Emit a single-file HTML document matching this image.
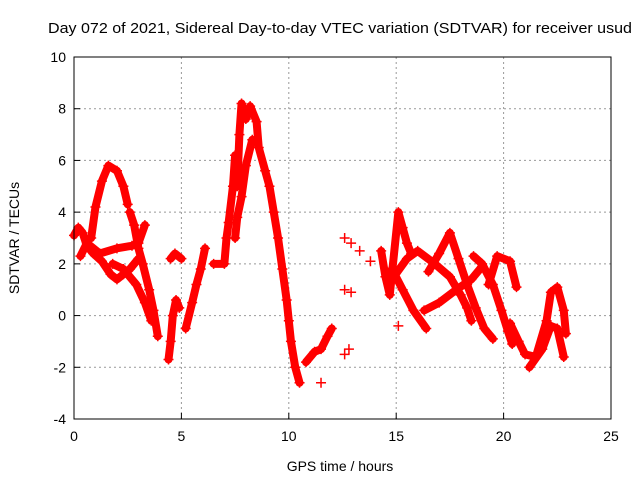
<!DOCTYPE html>
<html><head><meta charset="utf-8"><style>
body{margin:0;background:#fff;width:640px;height:480px;overflow:hidden}
svg{font-family:"Liberation Sans",sans-serif}
</style></head><body>
<svg id="chart" width="640" height="480" viewBox="0 0 640 480">
<rect width="640" height="480" fill="#fff"/>
<text x="340" y="33" font-size="15" text-anchor="middle" textLength="584" lengthAdjust="spacingAndGlyphs">Day 072 of 2021, Sidereal Day-to-day VTEC variation (SDTVAR) for receiver usud</text>
<g id="grid"></g>
<g id="series"></g>
<rect x="74" y="57" width="537" height="362" fill="none" stroke="#000" stroke-width="1"/>
<g id="ticks"></g>
<text x="340" y="471" font-size="14" text-anchor="middle">GPS time / hours</text>
<text x="19" y="238" font-size="14" text-anchor="middle" transform="rotate(-90 19 238)">SDTVAR / TECUs</text>
</svg>
<script>
const xTicks=[0,5,10,15,20,25];
const yTicks=[-4,-2,0,2,4,6,8,10];
const trackA=[[0,3.1],[0.2,3.4],[0.4,3.2],[0.6,2.7],[0.9,2.4],[1.3,2.1],[1.7,1.6],[2.0,1.4],[2.3,1.6],[2.6,1.8],[3.0,2.2]];
const trackB=[[0.8,3.0],[1.0,4.2],[1.3,5.2],[1.6,5.8],[2.0,5.6],[2.3,5.0],[2.5,4.3]];
const trackC=[[0.3,2.3],[0.6,2.8],[1.2,2.4],[2.0,2.6],[2.7,2.7],[3.0,2.8],[3.3,3.5]];
const trackD=[[2.6,4.0],[2.8,3.5],[3.0,2.6],[3.2,2.0],[3.5,1.0],[3.7,0.2],[3.9,-0.8]];
const trackE=[[1.8,2.0],[2.3,1.8],[2.9,1.2],[3.3,0.5],[3.6,-0.2]];
const trackF=[[4.4,-1.7],[4.5,-1.0],[4.6,0.0],[4.75,0.6],[4.9,0.3]];
const trackG=[[4.5,2.2],[4.7,2.4],[5.0,2.2]];
const trackH=[[5.2,-0.5],[5.5,0.5],[5.7,1.2],[5.9,1.8],[6.1,2.6]];
const trackI=[[6.5,2.0],[7.0,2.0],[7.1,3.0],[7.2,3.6],[7.4,5.0],[7.5,6.2]];
const trackJ=[[7.6,5.0],[7.7,7.0],[7.8,8.2],[8.0,7.6],[8.2,8.1],[8.5,7.5],[8.6,6.5],[8.9,5.6],[9.1,5.0],[9.3,4.0],[9.5,3.0],[9.7,1.8],[9.9,0.6],[10.0,-0.2],[10.1,-1.0],[10.3,-2.0],[10.5,-2.6]];
const trackK=[[8.3,6.8],[8.0,5.8],[7.8,4.6],[7.6,3.8],[7.5,3.0]];
const trackL=[[10.8,-1.8],[11.2,-1.4],[11.5,-1.3],[11.8,-0.8],[12.0,-0.5]];
const trackM=[[12.6,3.0],[12.9,2.8],[12.6,1.0],[12.9,0.9],[13.3,2.5],[13.8,2.1],[12.6,-1.5],[12.8,-1.3],[11.5,-2.6],[15.1,-0.4]];
const trackN=[[14.3,2.5],[14.5,1.5],[14.7,0.8],[15.1,4.0],[15.3,3.4],[15.5,2.8],[15.7,2.4]];
const trackO=[[14.8,1.8],[15.3,1.0],[15.8,0.2],[16.4,-0.5]];
const trackP=[[14.8,1.4],[15.5,2.2],[16.0,2.5],[16.8,2.0],[17.5,1.5],[18.0,0.8],[18.3,0.3],[18.5,-0.2]];
const trackQ=[[16.3,0.2],[17.0,0.5],[17.8,1.0],[18.5,1.4],[19.0,1.9]];
const trackR=[[16.5,1.7],[17.0,2.4],[17.5,3.2],[17.9,2.2],[18.3,1.2],[18.7,0.3],[19.1,-0.5],[19.5,-0.9]];
const trackS=[[18.6,2.3],[19.0,2.0],[19.5,1.2],[19.9,0.2],[20.2,-0.6],[20.4,-1.1]];
const trackT=[[19.3,1.2],[19.7,2.3],[20.3,2.1],[20.6,1.1]];
const trackU=[[20.3,-0.3],[20.7,-1.0],[21.0,-1.5],[21.5,-1.6],[22.0,-0.2],[22.2,0.9],[22.5,1.1],[22.8,0.2],[22.9,-0.7]];
const trackV=[[21.2,-2.0],[21.8,-1.3],[22.2,-0.4],[22.5,-0.5],[22.8,-1.6]];
const tracks=[trackA,trackB,trackC,trackD,trackE,trackF,trackG,trackH,trackI,trackJ,trackK,trackL,trackN,trackO,trackP,trackQ,trackR,trackS,trackT,trackU,trackV];
const x0=74,x1=611,y0=419,y1=57;
const sx=v=>x0+(v-0)/25*(x1-x0);
const sy=v=>y0-(v+4)/14*(y0-y1);
const NS="http://www.w3.org/2000/svg";
const grid=document.getElementById('grid'),ticks=document.getElementById('ticks'),ser=document.getElementById('series');
function mk(tag,attrs,parent){const e=document.createElementNS(NS,tag);for(const k in attrs)e.setAttribute(k,attrs[k]);parent.appendChild(e);return e;}
xTicks.forEach(t=>{const x=sx(t);
 if(t>0&&t<25){const l=mk('line',{x1:x,x2:x,y1:y1,y2:y0,stroke:'#999','stroke-dasharray':'2,3'},grid);}
 const tk=mk('line',{x1:x,x2:x,y1:y0,y2:y0-6,stroke:'#000'},ticks);
 const tx=mk('text',{x:x,y:y0+22,'font-size':14,'text-anchor':'middle'},ticks);tx.textContent=t;
 
 });
yTicks.forEach(t=>{const y=sy(t);
 if(t>-4&&t<10){const l=mk('line',{x1:x0,x2:x1,y1:y,y2:y,stroke:'#999','stroke-dasharray':'2,3'},grid);}
 const tk=mk('line',{x1:x0,x2:x0+6,y1:y,y2:y,stroke:'#000'},ticks);
 const tx=mk('text',{x:x0-8,y:y+5,'font-size':14,'text-anchor':'end'},ticks);tx.textContent=t;
 
 });
tracks.forEach(tr=>{
 const p=mk('polyline',{points:tr.map(d=>sx(d[0])+','+sy(d[1])).join(' '),fill:'none',stroke:'#f00','stroke-width':8,'stroke-linejoin':'round','stroke-linecap':'round'},ser);
 
 });
tracks.concat([trackM]).forEach(tr=>tr.forEach(d=>{
 const x=sx(d[0]),y=sy(d[1]);
 const m=mk('path',{d:`M${x-5},${y}H${x+5}M${x},${y-5}V${y+5}`,stroke:'#f00','stroke-width':1.5},ser);
 
 }));
</script>
</body></html>
